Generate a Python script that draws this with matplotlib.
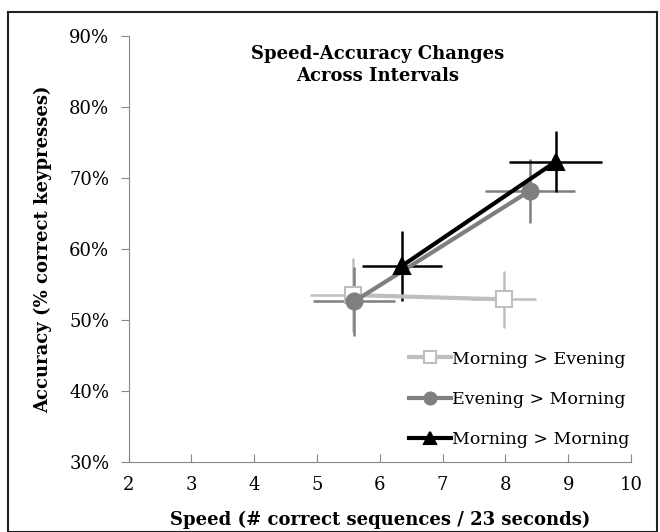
#!/usr/bin/env python3
# -*- coding: utf-8 -*-
"""Speed-accuracy changes across intervals, drawn again with matplotlib."""

import matplotlib
matplotlib.use("Agg")
from matplotlib import pyplot as plt
from matplotlib.patches import Rectangle

series = ["Morning > Evening", "Evening > Morning", "Morning > Morning"]
speed = [[5.57, 7.97], [5.59, 8.39], [6.35, 8.80]]
speed_err = [[0.68, 0.52], [0.65, 0.72], [0.64, 0.74]]
accuracy = [[53.5, 52.9], [52.6, 68.2], [57.6, 72.3]]
accuracy_err = [[5.2, 4.0], [4.8, 4.5], [4.9, 4.3]]

colors = ["#bfbfbf", "#7f7f7f", "#000000"]
markers = ["s", "o", "^"]
faces = ["white", "#7f7f7f", "#000000"]

x_ticks = [2, 3, 4, 5, 6, 7, 8, 9, 10]
y_ticks = [30, 40, 50, 60, 70, 80, 90]


def main():
    plt.rcParams["font.family"] = ["DejaVu Serif"]
    fig = plt.figure(figsize=(6.6, 5.32), dpi=100)
    ax = fig.add_axes([0.195, 0.132, 0.761, 0.8])

    for i in range(3):
        ax.errorbar(speed[i], accuracy[i], xerr=speed_err[i], yerr=accuracy_err[i],
                    fmt="none", ecolor=colors[i], elinewidth=1.8, capsize=0, zorder=2)
    for i in range(3):
        ax.plot(speed[i], accuracy[i], color=colors[i], lw=3, marker=markers[i],
                markersize=11.5,
                markerfacecolor=faces[i], markeredgecolor=colors[i],
                markeredgewidth=1.5, label=series[i], zorder=3)

    ax.set_xlim(2, 10)
    ax.set_ylim(30, 90)
    ax.set_xticks(x_ticks)
    ax.set_yticks(y_ticks)
    ax.set_yticklabels(["%d%%" % v for v in y_ticks])
    ax.tick_params(axis="x", direction="in", length=6, color="#888888",
                   labelsize=13, pad=10)
    ax.tick_params(axis="y", direction="out", length=6, color="#888888",
                   labelsize=13, pad=8)
    for side in ["top", "right"]:
        ax.spines[side].set_visible(False)
    for side in ["left", "bottom"]:
        ax.spines[side].set_color("#888888")

    ax.set_xlabel("Speed (# correct sequences / 23 seconds)", fontsize=13,
                  fontweight="bold", labelpad=12)
    ax.set_ylabel("Accuracy (% correct keypresses)", fontsize=13,
                  fontweight="bold", labelpad=12)
    ax.text(0.495, 0.98, "Speed-Accuracy Changes\nAcross Intervals",
            transform=ax.transAxes, ha="center", va="top", fontsize=13,
            fontweight="bold", linespacing=1.3)

    leg = ax.legend(loc="lower right", frameon=False, fontsize=12.5,
                    handlelength=2.4, handletextpad=0.05, labelspacing=1.35,
                    borderaxespad=0.0, bbox_to_anchor=(1.01, 0.015),
                    markerscale=0.75)
    leg.set_zorder(5)

    fig.patches.append(Rectangle((0.012, 0.0), 0.984, 0.977, transform=fig.transFigure,
                                 fill=False, edgecolor="#222222", lw=1.5))
    fig.savefig("out.png", dpi=100)


if __name__ == "__main__":
    main()
